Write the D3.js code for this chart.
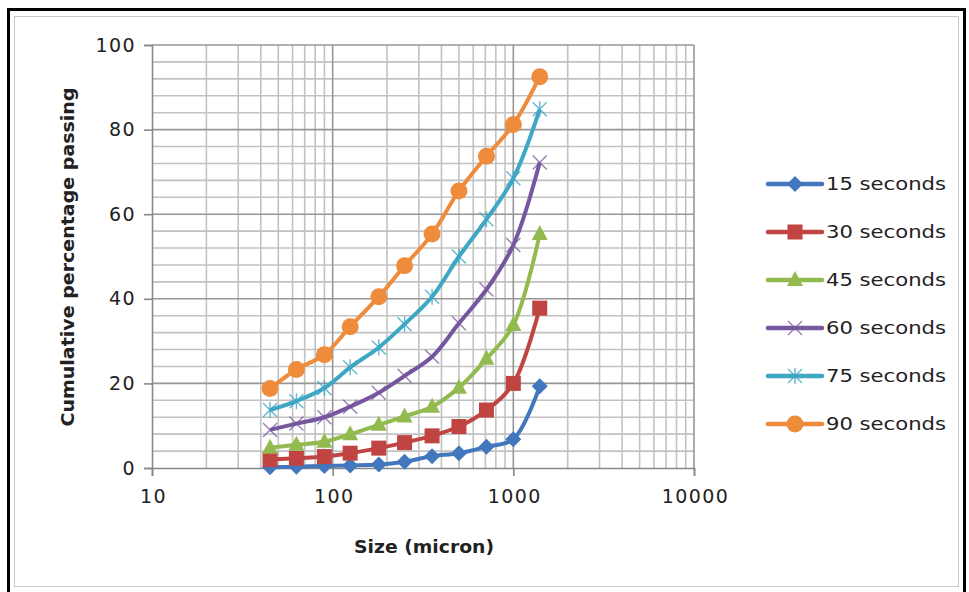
<!DOCTYPE html>
<html><head><meta charset="utf-8">
<script src="https://cdn.jsdelivr.net/npm/d3@7"></script>
<style>body{margin:0;background:#fff;} svg{display:block;}</style>
</head><body>
<svg id="c" width="969" height="592"></svg>
<script>
const sizes = [45, 63, 90, 125, 180, 250, 355, 500, 710, 1000, 1400];
const s15 = [0.2, 0.3, 0.5, 0.6, 0.8, 1.5, 2.8, 3.5, 5.0, 6.8, 19.3];
const s30 = [2.0, 2.3, 2.7, 3.5, 4.7, 6.0, 7.6, 9.8, 13.7, 20.0, 37.8];
const s45 = [4.8, 5.5, 6.2, 8.0, 10.2, 12.2, 14.5, 19.0, 25.8, 33.8, 55.3];
const s60 = [9.0, 10.5, 12.0, 14.5, 17.8, 21.8, 26.3, 34.2, 42.2, 52.7, 72.2];
const s75 = [13.7, 15.8, 18.9, 23.8, 28.5, 34.0, 40.5, 50.0, 58.8, 68.5, 84.8];
const s90 = [18.8, 23.3, 26.8, 33.4, 40.5, 47.8, 55.3, 65.5, 73.7, 81.2, 92.5];
const seriesNames = ["15 seconds", "30 seconds", "45 seconds", "60 seconds", "75 seconds", "90 seconds"];
const xTicks = [10, 100, 1000, 10000];
const yTicks = [0, 20, 40, 60, 80, 100];

const seriesVals = [s15, s30, s45, s60, s75, s90];
const colors = ["#4277bd", "#bf4442", "#93ba4f", "#76569e", "#3ea7c4", "#ee8c3c"];
const markers = ["diamond", "square", "triangle", "x", "star", "circle"];
const FONT = "DejaVu Sans, sans-serif";

const svg = d3.select("#c");
svg.append("rect").attr("x", 8.5).attr("y", 9.5).attr("width", 956).attr("height", 620)
  .attr("fill", "none").attr("stroke", "#000").attr("stroke-width", 3);
svg.append("rect").attr("x", 14.5).attr("y", 16.5).attr("width", 944).attr("height", 570)
  .attr("fill", "none").attr("stroke", "#c8c8c8").attr("stroke-width", 1);

const x = d3.scaleLog().domain([10, 10000]).range([152, 694]);
const y = d3.scaleLinear().domain([0, 100]).range([468, 45]);

const g = svg.append("g");
const minorX = [];
for (let d = 10; d < 10000; d *= 10) for (let k = 2; k <= 9; k++) minorX.push(d * k);
g.selectAll(".mx").data(minorX).enter().append("line")
  .attr("x1", d => x(d)).attr("x2", d => x(d)).attr("y1", y(0)).attr("y2", y(100))
  .attr("stroke", "#c2c2c2").attr("stroke-width", 1.6);
const minorY = d3.range(4, 100, 4).filter(v => v % 20 !== 0);
g.selectAll(".my").data(minorY).enter().append("line")
  .attr("x1", x(10)).attr("x2", x(10000)).attr("y1", d => y(d)).attr("y2", d => y(d))
  .attr("stroke", "#c2c2c2").attr("stroke-width", 1.6);
g.selectAll(".MX").data(xTicks.slice(1, 3)).enter().append("line")
  .attr("x1", d => x(d)).attr("x2", d => x(d)).attr("y1", y(0)).attr("y2", y(100))
  .attr("stroke", "#969696").attr("stroke-width", 1.6);
g.selectAll(".MY").data(yTicks.slice(1)).enter().append("line")
  .attr("x1", x(10)).attr("x2", x(10000)).attr("y1", d => y(d)).attr("y2", d => y(d))
  .attr("stroke", "#969696").attr("stroke-width", 1.6);
g.append("line").attr("x1", x(10000)).attr("x2", x(10000)).attr("y1", y(0)).attr("y2", y(100))
  .attr("stroke", "#969696").attr("stroke-width", 1.6);

const xAxis = d3.axisBottom(x).tickValues(xTicks).tickFormat(d3.format("d")).tickSize(8).tickPadding(14);
const yAxis = d3.axisLeft(y).tickValues(yTicks).tickSize(8).tickPadding(12);
const gx = svg.append("g").attr("transform", `translate(0,${y(0)})`).call(xAxis);
const gy = svg.append("g").attr("transform", `translate(${x(10)},0)`).call(yAxis);
[gx, gy].forEach(a => {
  a.select(".domain").attr("stroke", "#888").attr("stroke-width", 1.6);
  a.selectAll(".tick line").attr("stroke", "#888").attr("stroke-width", 1.6);
  a.selectAll("text").attr("font-family", FONT).attr("font-size", 19).attr("fill", "#222").attr("letter-spacing", 1.4);
});
gy.selectAll("text").attr("dx", 4);
gx.selectAll("text").attr("dx", 1);

svg.append("text").attr("x", 424).attr("y", 553).attr("text-anchor", "middle")
  .attr("font-family", FONT).attr("font-weight", "bold").attr("font-size", 17).attr("fill", "#222")
  .attr("textLength", 140).attr("lengthAdjust", "spacingAndGlyphs")
  .text("Size (micron)");
svg.append("text").attr("transform", "translate(74,257) rotate(-90)").attr("text-anchor", "middle")
  .attr("font-family", FONT).attr("font-weight", "bold").attr("font-size", 17).attr("fill", "#222")
  .attr("textLength", 339).attr("lengthAdjust", "spacingAndGlyphs")
  .text("Cumulative percentage passing");

function drawMarker(sel, type, color, cx, cy) {
  if (type === "diamond") {
    sel.append("path").attr("d", `M${cx},${cy - 8}L${cx + 8},${cy}L${cx},${cy + 8}L${cx - 8},${cy}Z`).attr("fill", color);
  } else if (type === "square") {
    sel.append("rect").attr("x", cx - 7.5).attr("y", cy - 7.5).attr("width", 15).attr("height", 15).attr("fill", color);
  } else if (type === "triangle") {
    sel.append("path").attr("d", `M${cx},${cy - 9}L${cx + 8},${cy + 6}L${cx - 8},${cy + 6}Z`).attr("fill", color);
  } else if (type === "x") {
    sel.append("path").attr("d", `M${cx - 7},${cy - 7}L${cx + 7},${cy + 7}M${cx - 7},${cy + 7}L${cx + 7},${cy - 7}`)
      .attr("stroke", color).attr("stroke-width", 1.4).attr("opacity", 0.75);
  } else if (type === "star") {
    sel.append("path").attr("d", `M${cx - 7},${cy - 7}L${cx + 7},${cy + 7}M${cx - 7},${cy + 7}L${cx + 7},${cy - 7}M${cx},${cy - 8}L${cx},${cy + 8}`)
      .attr("stroke", color).attr("stroke-width", 1.4).attr("opacity", 0.8);
  } else {
    sel.append("circle").attr("cx", cx).attr("cy", cy).attr("r", 8.5).attr("fill", color);
  }
}

const line = d3.line().x(d => x(d[0])).y(d => y(d[1])).curve(d3.curveCatmullRom.alpha(0.5));
seriesVals.forEach((vals, i) => {
  const pts = sizes.map((s, j) => [s, vals[j]]);
  const sg = svg.append("g");
  sg.append("path").attr("d", line(pts)).attr("fill", "none").attr("stroke", colors[i]).attr("stroke-width", 4);
  pts.forEach(p => drawMarker(sg, markers[i], colors[i], x(p[0]), y(p[1])));
});

const legY = [184, 232, 280, 328, 376, 424];
seriesNames.forEach((name, i) => {
  const lg = svg.append("g");
  lg.append("line").attr("x1", 768).attr("x2", 822).attr("y1", legY[i]).attr("y2", legY[i])
    .attr("stroke", colors[i]).attr("stroke-width", 4.5).attr("stroke-linecap", "round");
  drawMarker(lg, markers[i], colors[i], 795, legY[i]);
  lg.append("text").attr("x", 826).attr("y", legY[i] + 6).attr("font-family", FONT)
    .attr("font-size", 17).attr("fill", "#222")
    .attr("textLength", 120).attr("lengthAdjust", "spacingAndGlyphs").text(name);
});
</script>
</body></html>
